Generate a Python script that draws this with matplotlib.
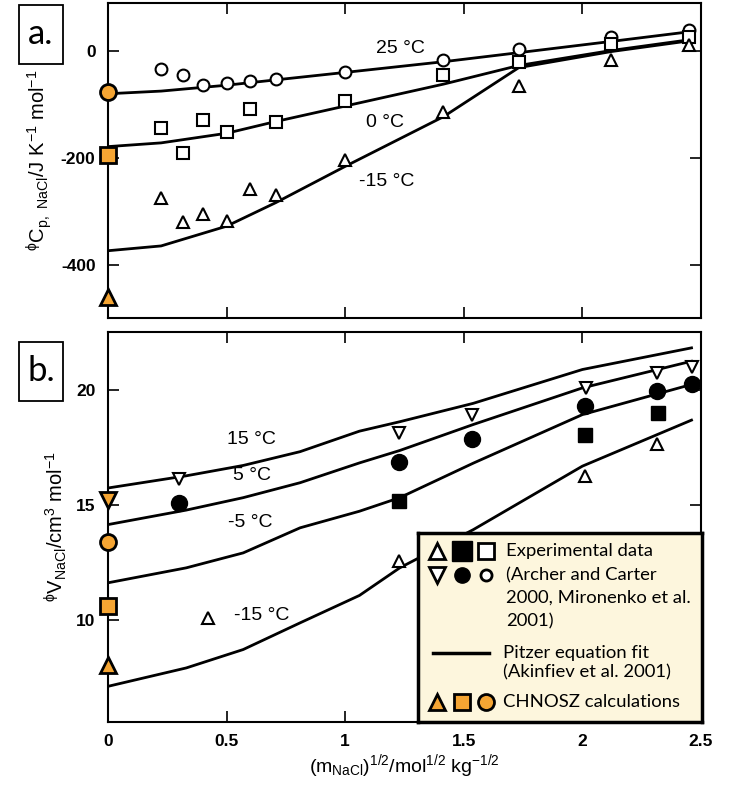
import matplotlib.pyplot as plt
from matplotlib.patches import Rectangle
from matplotlib.ticker import FormatStrFormatter

plt.rcParams['font.family'] = ['Liberation Sans', 'DejaVu Sans']
plt.rcParams['mathtext.default'] = 'regular'
plt.rcParams['axes.unicode_minus'] = False

ORANGE = '#F5A533'

# ---- panel a: apparent heat capacity ----
x_a = [0.224, 0.316, 0.4, 0.5, 0.6, 0.707, 1.0, 1.414, 1.732, 2.121, 2.449]
cp_25 = [-33, -45, -64, -60, -56, -53, -39, -16, 4, 26, 40]
cp_0 = [-145, -191, -129, -152, -109, -132, -93, -45, -20, 14, 26]
cp_m15 = [-275, -320, -306, -318, -258, -269, -204, -114, -66, -17, 11]

fit_x_a = [0, 0.224, 0.5, 0.707, 1.0, 1.414, 1.732, 2.121, 2.449]
fit_cp_25 = [-80, -75, -64, -54, -40, -20, -3, 18, 36]
fit_cp_0 = [-179, -172, -154, -132, -103, -62, -27, 1, 21]
fit_cp_m15 = [-374, -365, -328, -284, -216, -123, -31, -1, 19]

chnosz_cp = [-76, -194, -461]   # 25, 0, -15 C

# ---- panel b: apparent volume ----
x_v15 = [0.298, 1.225, 1.535, 2.014, 2.316, 2.464]
v_15 = [16.09, 18.12, 18.9, 20.05, 20.7, 21.0]
x_v5 = [0.298, 1.225, 1.535, 2.01, 2.316, 2.464]
v_5 = [15.07, 16.84, 17.83, 19.28, 19.93, 20.26]
x_vm5 = [1.225, 2.01, 2.32]
v_m5 = [15.14, 18.04, 19.0]
x_vm15 = [0.422, 1.225, 2.01, 2.316]
v_m15 = [10.07, 12.53, 16.23, 17.65]

fit_x_b = [0, 0.33, 0.57, 0.81, 1.06, 1.23, 1.54, 2.0, 2.46]
fit_v_15 = [15.72, 16.25, 16.7, 17.3, 18.19, 18.6, 19.4, 20.87, 21.81]
fit_v_5 = [14.13, 14.76, 15.3, 15.95, 16.81, 17.35, 18.48, 20.07, 21.23]
fit_v_m5 = [11.6, 12.25, 12.9, 13.99, 14.71, 15.3, 16.8, 18.91, 20.22]
fit_v_m15 = [7.1, 7.9, 8.7, 9.86, 11.05, 12.25, 13.91, 16.67, 18.67]

chnosz_v = [15.2, 13.36, 10.58, 8.04]   # 15, 5, -5, -15 C

fig = plt.figure(figsize=(7.36, 7.85), dpi=100)
ax1 = fig.add_axes([108/736, 1-318/785, 593/736, 315/785])
ax2 = fig.add_axes([108/736, 1-722/785, 593/736, 390/785])

def style(ax):
    ax.tick_params(direction='in', top=True, right=True, length=8, width=1.2,
                   labelsize=12.5, pad=9)
    for lab in ax.get_xticklabels() + ax.get_yticklabels():
        lab.set_fontweight('bold')
    for s in ax.spines.values():
        s.set_linewidth(1.5)
    ax.set_xlim(0, 2.5)
    ax.xaxis.set_major_formatter(FormatStrFormatter('%g'))

lw = 2.0
open_kw = dict(ls='none', mfc='white', mec='black', mew=1.5, ms=8.5, zorder=3)
orange_kw = dict(ls='none', mfc=ORANGE, mec='black', mew=2.0, ms=11.5, zorder=5,
                 clip_on=False)

# panel a
for y in (fit_cp_25, fit_cp_0, fit_cp_m15):
    ax1.plot(fit_x_a, y, color='black', lw=lw, zorder=2)
ax1.plot(x_a, cp_25, marker='o', **open_kw)
ax1.plot(x_a, cp_0, marker='s', **open_kw)
ax1.plot(x_a, cp_m15, marker='^', **open_kw)
for val, m in zip(chnosz_cp, ['o', 's', '^']):
    ax1.plot([0], [val], marker=m, **orange_kw)
ax1.set_ylim(-500, 90)
ax1.set_xticks([0, 0.5, 1, 1.5, 2, 2.5])
ax1.set_yticks([-400, -200, 0])
style(ax1)
ax1.set_xticklabels([])
ax1.set_ylabel(r'$^{\phi}$C$_{p,\ NaCl}$/J K$^{-1}$ mol$^{-1}$', fontsize=14.5, labelpad=5)
tlab = dict(fontsize=14, ha='center', va='center')
ax1.text(1.232, 5, '25 °C', **tlab)
ax1.text(1.168, -133, '0 °C', **tlab)
ax1.text(1.177, -244, '-15 °C', **tlab)

# panel b
for y in (fit_v_15, fit_v_5, fit_v_m5, fit_v_m15):
    ax2.plot(fit_x_b, y, color='black', lw=lw, zorder=2)
ax2.plot(x_v15, v_15, marker='v', **open_kw)
ax2.plot(x_v5, v_5, marker='o', ls='none', color='black', ms=11.5, zorder=3)
ax2.plot(x_vm5, v_m5, marker='s', ls='none', color='black', ms=10.5, zorder=3)
ax2.plot(x_vm15, v_m15, marker='^', **open_kw)
for val, m in zip(chnosz_v, ['v', 'o', 's', '^']):
    ax2.plot([0], [val], marker=m, **orange_kw)
ax2.set_ylim(5.55, 22.5)
ax2.set_xticks([0, 0.5, 1, 1.5, 2, 2.5])
ax2.set_yticks([10, 15, 20])
style(ax2)
ax2.set_ylabel(r'$^{\phi}$V$_{NaCl}$/cm$^{3}$ mol$^{-1}$', fontsize=14.5, labelpad=5)
ax2.set_xlabel(r'(m$_{NaCl}$)$^{1/2}$/mol$^{1/2}$ kg$^{-1/2}$', fontsize=14, labelpad=2)
ax2.text(0.605, 17.83, '15 °C', **tlab)
ax2.text(0.605, 16.26, '5 °C', **tlab)
ax2.text(0.598, 14.2, '-5 °C', **tlab)
ax2.text(0.648, 10.2, '-15 °C', **tlab)

# panel tags
for label, top in (('a.', 5), ('b.', 342)):
    fig.patches.append(Rectangle((19/736, 1-(top+59)/785), 44/736, 59/785,
                                 transform=fig.transFigure, fill=False,
                                 ec='black', lw=1.3))
    fig.text(41/736, 1-(top+29)/785, label, fontsize=25, family='Lato',
             ha='center', va='center')

# legend box
leg = fig.add_axes([418/736, 1-722/785, 284/736, 189/785], facecolor='#FDF6DD')
leg.set_xlim(0, 284)
leg.set_ylim(189, 0)
leg.set_xticks([])
leg.set_yticks([])
for s in leg.spines.values():
    s.set_linewidth(2.5)
col = [19, 44, 68]
leg.plot(col[0], 18, marker='^', mfc='white', mec='black', mew=2.0, ms=12)
leg.plot(col[1], 18, marker='s', color='black', ms=14)
leg.plot(col[2], 18, marker='s', mfc='white', mec='black', mew=2.0, ms=11.5)
leg.plot(col[0], 42, marker='v', mfc='white', mec='black', mew=2.0, ms=11)
leg.plot(col[1], 42, marker='o', color='black', ms=11)
leg.plot(col[2], 42, marker='o', mfc='white', mec='black', mew=2.0, ms=8)
leg.plot([15, 71], [120, 120], color='black', lw=2.5)
for x, m in zip(col, ['^', 's', 'o']):
    leg.plot(x, 169, marker=m, mfc=ORANGE, mec='black', mew=2.0, ms=11.5)
tkw = dict(fontsize=13.3, family='Lato', va='center', ha='left')
for y, s in ((18, 'Experimental data'), (42, '(Archer and Carter'),
             (65, '2000, Mironenko et al.'), (88, '2001)')):
    leg.text(88, y, s, **tkw)
leg.text(85, 120, 'Pitzer equation fit', **tkw)
leg.text(85, 139, '(Akinfiev et al. 2001)', **tkw)
leg.text(85, 169, 'CHNOSZ calculations', **tkw)

fig.savefig('out.png', dpi=100)
